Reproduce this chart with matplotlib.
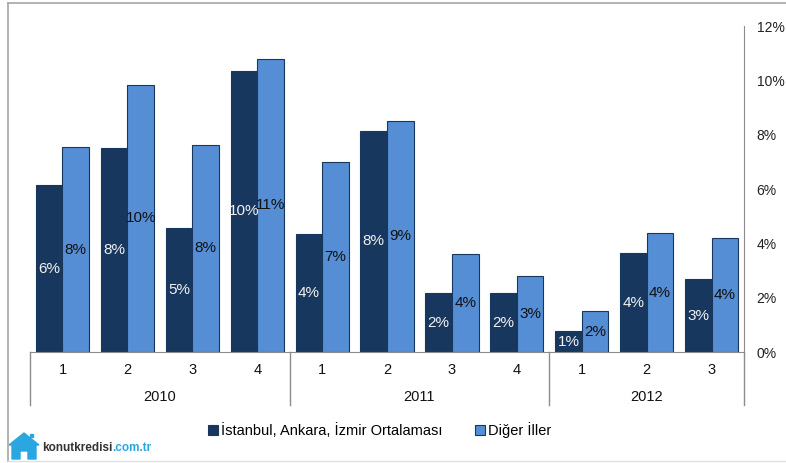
import matplotlib
matplotlib.use("Agg")
import matplotlib.pyplot as plt
from matplotlib.patches import Polygon, Rectangle
from matplotlib.lines import Line2D

plt.rcParams['font.family'] = ['Liberation Sans', 'DejaVu Sans']

quarters = ["1", "2", "3", "4", "1", "2", "3", "4", "1", "2", "3"]
years = ["2010", "2011", "2012"]
year_counts = [4, 4, 3]
series_names = ["İstanbul, Ankara, İzmir Ortalaması", "Diğer İller"]
big3 = [6.13, 7.52, 4.55, 10.35, 4.33, 8.15, 2.17, 2.17, 0.77, 3.63, 2.68]
others = [7.53, 9.83, 7.63, 10.79, 7.01, 8.51, 3.60, 2.79, 1.50, 4.37, 4.18]
yticks = [0, 2, 4, 6, 8, 10, 12]

dark = "#17375E"
light = "#558ED5"

fig = plt.figure(figsize=(7.86, 4.63), dpi=100)
ax = fig.add_axes([0.0382, 0.2397, 0.9084, 0.7041])

n = len(quarters)
xs = [i + 0.5 for i in range(n)]
w = 0.41
b1 = ax.bar([x - w / 2 for x in xs], big3, width=w, color=dark, edgecolor=dark, linewidth=0.8, label=series_names[0])
b2 = ax.bar([x + w / 2 for x in xs], others, width=w, color=light, edgecolor=dark, linewidth=0.8, label=series_names[1])

for x, v in zip(xs, big3):
    ax.text(x - w / 2, v / 2, f"{round(v):.0f}%", ha="center", va="center", color="#F2F2F2", fontsize=11)
for x, v in zip(xs, others):
    ax.text(x + w / 2, v / 2, f"{round(v):.0f}%", ha="center", va="center", color="#111111", fontsize=11)

ax.set_xlim(0, n)
ax.set_ylim(0, 12)
ax.yaxis.tick_right()
ax.set_yticks(yticks)
ax.set_yticklabels([f"{t}%" for t in yticks], fontsize=10, color="#222222")
ax.tick_params(axis="y", length=0, pad=9)
ax.set_xticks([])
for s in ["top", "left"]:
    ax.spines[s].set_visible(False)
ax.spines["right"].set_color("#8C8C8C")
ax.spines["bottom"].set_color("#8C8C8C")

tr = ax.get_xaxis_transform()
for x, q in zip(xs, quarters):
    ax.text(x, -0.055, q, transform=tr, ha="center", va="center", fontsize=10.5, color="#111111")
start = 0
bounds = [0]
for yname, c in zip(years, year_counts):
    ax.text(start + c / 2, -0.138, yname, transform=tr, ha="center", va="center", fontsize=10.5, color="#111111")
    start += c
    bounds.append(start)
for bnd in bounds:
    ax.add_line(Line2D([bnd, bnd], [0, -0.163], transform=tr, color="#8C8C8C", linewidth=1.0, clip_on=False))

fig.legend(handles=[b1, b2], labels=series_names, loc="center", bbox_to_anchor=(0.483, 0.071), ncol=2,
           frameon=False, fontsize=10.5, handlelength=0.7, handleheight=0.7, handletextpad=0.2, columnspacing=2.2)

# outer frame
fig.add_artist(Line2D([8 / 786, 1.0], [1 - 3 / 463, 1 - 3 / 463], transform=fig.transFigure, color="#A6A6A6", linewidth=1.2))
fig.add_artist(Line2D([8 / 786, 8 / 786], [1 - 3 / 463, 1 - 461 / 463], transform=fig.transFigure, color="#A6A6A6", linewidth=1.2))
fig.add_artist(Line2D([8 / 786, 1.0], [1 - 461 / 463, 1 - 461 / 463], transform=fig.transFigure, color="#E0E0E0", linewidth=1.0))

# logo
def fx(px):
    return px / 786
def fy(py):
    return 1 - py / 463
house = Polygon([(fx(9), fy(445)), (fx(24), fy(433)), (fx(39), fy(445)), (fx(36), fy(445)), (fx(36), fy(459)),
                 (fx(28), fy(459)), (fx(28), fy(451)), (fx(20), fy(451)), (fx(20), fy(459)), (fx(12), fy(459)), (fx(12), fy(445))],
                closed=True, transform=fig.transFigure, color="#2AA7E0")
fig.add_artist(house)
fig.add_artist(Rectangle((fx(30), fy(437)), fx(3), 3 / 463, transform=fig.transFigure, color="#2AA7E0"))
t1 = fig.text(fx(42), fy(448), "konutkredisi", fontsize=8.5, color="#333333", fontweight="bold", va="center", ha="left")
fig.canvas.draw()
bb = t1.get_window_extent()
fig.text(bb.x1 / fig.bbox.width, fy(448), ".com.tr", fontsize=8.5, color="#2AA7E0", fontweight="bold", va="center", ha="left")

fig.savefig("out.png", dpi=100)
